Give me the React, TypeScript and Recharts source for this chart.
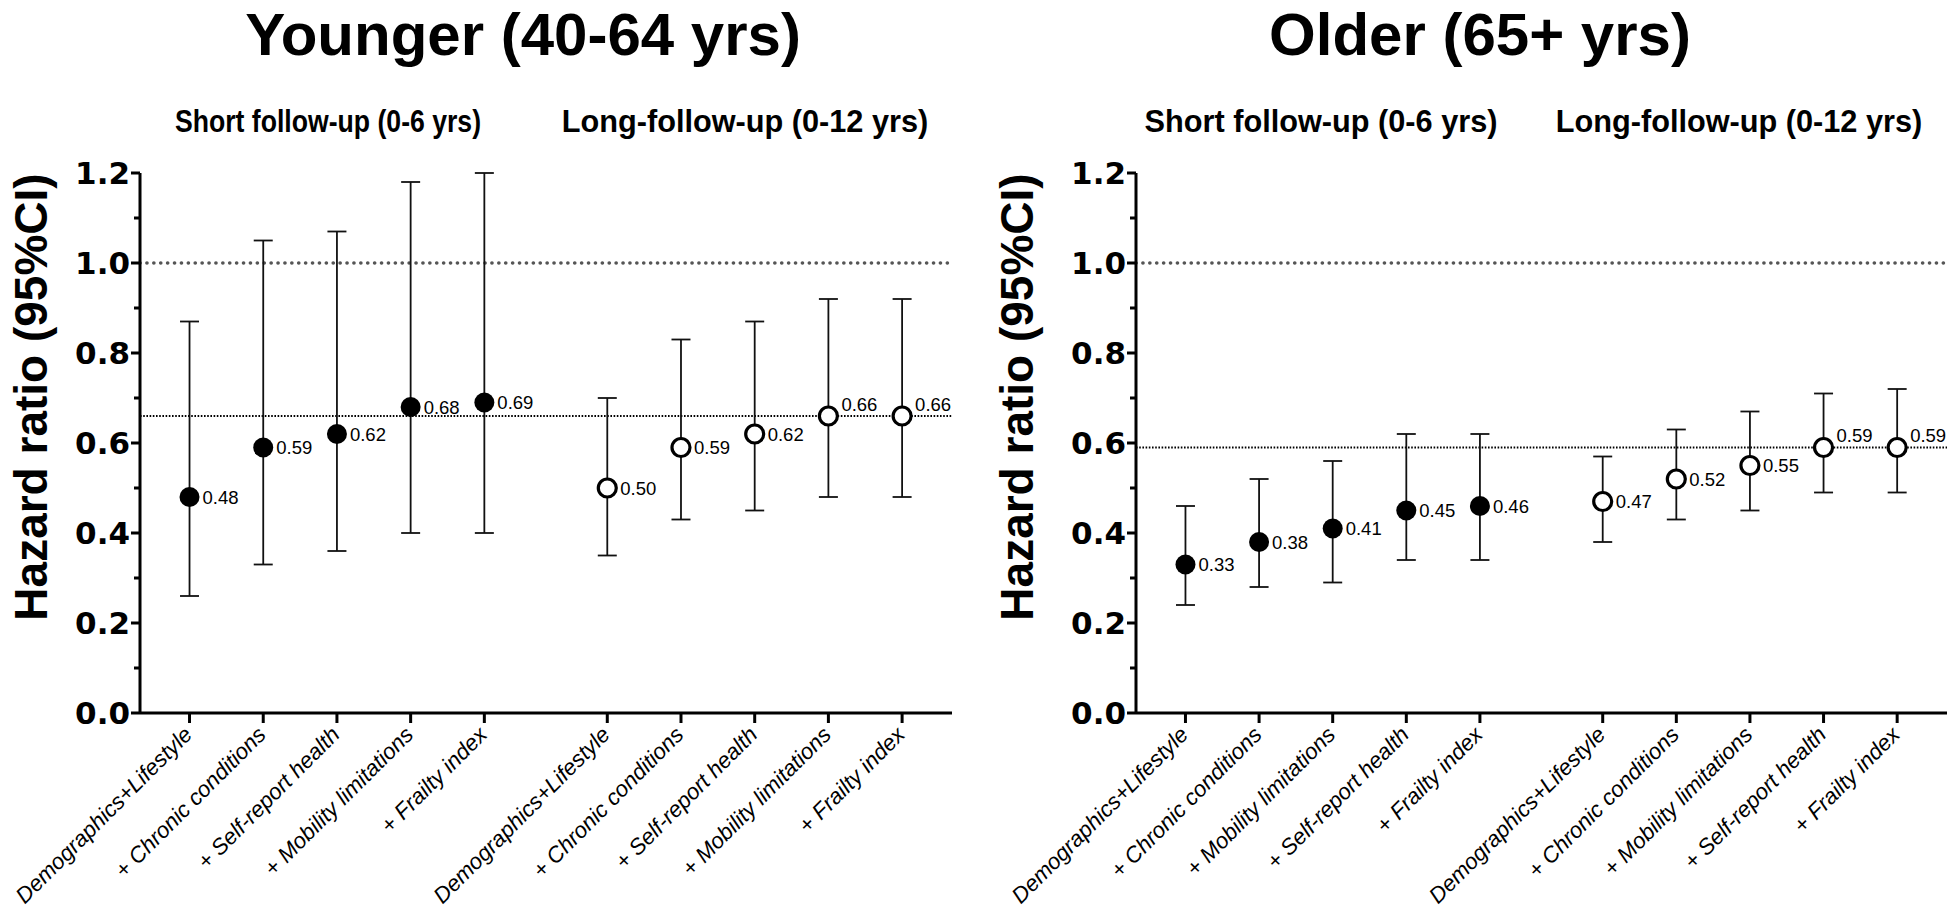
import { ScatterChart, Scatter, XAxis, YAxis, ErrorBar, ReferenceLine } from 'recharts'

// model labels (x categories)
const youngerLabels = ['Demographics+Lifestyle', '+ Chronic conditions', '+ Self-report health', '+ Mobility limitations', '+ Frailty index']
const olderLabels = ['Demographics+Lifestyle', '+ Chronic conditions', '+ Mobility limitations', '+ Self-report health', '+ Frailty index']

// Younger (40-64 yrs)
const youngerShortHR = [0.48, 0.59, 0.62, 0.68, 0.69]
const youngerShortLow = [0.26, 0.33, 0.36, 0.40, 0.40]
const youngerShortHigh = [0.87, 1.05, 1.07, 1.18, 1.20]
const youngerLongHR = [0.50, 0.59, 0.62, 0.66, 0.66]
const youngerLongLow = [0.35, 0.43, 0.45, 0.48, 0.48]
const youngerLongHigh = [0.70, 0.83, 0.87, 0.92, 0.92]
const youngerRef = 0.66

// Older (65+ yrs)
const olderShortHR = [0.33, 0.38, 0.41, 0.45, 0.46]
const olderShortLow = [0.24, 0.28, 0.29, 0.34, 0.34]
const olderShortHigh = [0.46, 0.52, 0.56, 0.62, 0.62]
const olderLongHR = [0.47, 0.52, 0.55, 0.59, 0.59]
const olderLongLow = [0.38, 0.43, 0.45, 0.49, 0.49]
const olderLongHigh = [0.57, 0.63, 0.67, 0.71, 0.72]
const olderRef = 0.59

const yTicks = [0, 0.1, 0.2, 0.3, 0.4, 0.5, 0.6, 0.7, 0.8, 0.9, 1.0, 1.1, 1.2]

const SANS = "'Liberation Sans', Arial, sans-serif"
const HEAVY = "'DejaVu Sans', 'Liberation Sans', sans-serif"

// second group sits a bit further right than the next slot
const GROUP_GAP = 1.668
const slot = (group: number, i: number) => i + group * (4 + GROUP_GAP)
const xTicks = [0, 1, 2, 3, 4].map((i) => slot(0, i)).concat([0, 1, 2, 3, 4].map((i) => slot(1, i)))

function rows(group: number, hr: number[], lo: number[], hi: number[]) {
    return hr.map((v, i) => ({ pos: slot(group, i), hr: v, err: [v - lo[i], hi[i] - v] }))
}

function YTick(props: any) {
    const { x, y, payload } = props
    const v = Math.round(payload.value * 10)
    const major = v % 2 === 0
    return (
        <g>
            <line x1={x - (major ? 9 : 6)} y1={y} x2={x} y2={y} stroke="#000" strokeWidth={3} />
            {major && (
                <text x={x - 10} y={y} dy="0.36em" textAnchor="end" fontFamily={HEAVY} fontWeight="bold" fontSize={31} fill="#000">
                    {(v / 10).toFixed(1)}
                </text>
            )}
        </g>
    )
}

function makeXTick(labels: string[]) {
    return function XTick(props: any) {
        const { x, y, payload } = props
        const idx = xTicks.findIndex((t) => Math.abs(t - payload.value) < 1e-6)
        const text = labels[idx % 5]
        const ax = x + 4
        const ay = y + 23
        return (
            <g>
                <line x1={x} y1={y} x2={x} y2={y + 10} stroke="#000" strokeWidth={3} />
                <text x={ax} y={ay} textAnchor="end" transform={`rotate(-45, ${ax}, ${ay})`} fontFamily={SANS} fontStyle="italic" fontSize={22.3} fill="#000">
                    {text}
                </text>
            </g>
        )
    }
}

function makeDot(open: boolean, ref: number) {
    return function Dot(props: any) {
        const { cx, cy, payload } = props
        const onRef = Math.abs(payload.hr - ref) < 1e-9
        return (
            <g>
                {open ? (
                    <circle cx={cx} cy={cy} r={9} fill="#fff" stroke="#000" strokeWidth={3.2} />
                ) : (
                    <circle cx={cx} cy={cy} r={10} fill="#000" />
                )}
                <text x={cx + 13} y={cy - (onRef ? 12 : 0)} dy="0.36em" fontFamily={SANS} fontSize={18.5} fill="#000">
                    {payload.hr.toFixed(2)}
                </text>
            </g>
        )
    }
}

interface PanelProps {
    width: number
    yAxisWidth: number
    labels: string[]
    shortData: { pos: number; hr: number; err: number[] }[]
    longData: { pos: number; hr: number; err: number[] }[]
    refValue: number
}

function Panel({ width, yAxisWidth, labels, shortData, longData, refValue }: PanelProps) {
    return (
        <ScatterChart width={width} height={914} margin={{ top: 173, right: width === 960 ? 8 : 0, bottom: 0, left: 0 }}>
            <XAxis
                type="number"
                dataKey="pos"
                domain={[-0.672, 10.345]}
                ticks={xTicks}
                interval={0}
                tickSize={0}
                tickMargin={0}
                height={201}
                tick={makeXTick(labels)}
                axisLine={{ stroke: '#000', strokeWidth: 3 }}
                allowDataOverflow
            />
            <YAxis
                type="number"
                dataKey="hr"
                domain={[0, 1.2]}
                ticks={yTicks}
                interval={0}
                tickSize={0}
                tickMargin={0}
                width={yAxisWidth}
                tick={<YTick />}
                axisLine={{ stroke: '#000', strokeWidth: 3 }}
                allowDataOverflow
            />
            <ReferenceLine y={1} stroke="#555" strokeWidth={3.6} strokeDasharray="0.1 6.8" strokeLinecap="round" />
            <ReferenceLine y={refValue} stroke="#000" strokeWidth={2.2} strokeDasharray="1.6 1.6" />
            <Scatter data={shortData} dataKey="hr" shape={makeDot(false, refValue)} isAnimationActive={false}>
                <ErrorBar dataKey="err" direction="y" width={9.5} stroke="#111" strokeWidth={1.8} />
            </Scatter>
            <Scatter data={longData} dataKey="hr" shape={makeDot(true, refValue)} isAnimationActive={false}>
                <ErrorBar dataKey="err" direction="y" width={9.5} stroke="#111" strokeWidth={1.8} />
            </Scatter>
        </ScatterChart>
    )
}

export default function App() {
    return (
        <div style={{ position: 'absolute', left: 0, top: 0, width: 1947, height: 914, background: '#fff', overflow: 'hidden' }}>
            <div style={{ position: 'absolute', left: 0, top: 0 }}>
                <Panel
                    width={960}
                    yAxisWidth={140}
                    labels={youngerLabels}
                    shortData={rows(0, youngerShortHR, youngerShortLow, youngerShortHigh)}
                    longData={rows(1, youngerLongHR, youngerLongLow, youngerLongHigh)}
                    refValue={youngerRef}
                />
            </div>
            <div style={{ position: 'absolute', left: 980, top: 0 }}>
                <Panel
                    width={967}
                    yAxisWidth={156}
                    labels={olderLabels}
                    shortData={rows(0, olderShortHR, olderShortLow, olderShortHigh)}
                    longData={rows(1, olderLongHR, olderLongLow, olderLongHigh)}
                    refValue={olderRef}
                />
            </div>
            <svg width={1947} height={914} style={{ position: 'absolute', left: 0, top: 0, pointerEvents: 'none' }}>
                <g fontFamily={SANS} fontWeight="bold" fill="#000">
                    <text x={523} y={55} textAnchor="middle" fontSize={60}>Younger (40-64 yrs)</text>
                    <text x={1480} y={55} textAnchor="middle" fontSize={60}>Older (65+ yrs)</text>
                    <text x={175} y={132} fontSize={30.7} textLength={306} lengthAdjust="spacingAndGlyphs">Short follow-up (0-6 yrs)</text>
                    <text x={745} y={132} textAnchor="middle" fontSize={30.7}>Long-follow-up (0-12 yrs)</text>
                    <text x={1321} y={132} textAnchor="middle" fontSize={30.7}>Short follow-up (0-6 yrs)</text>
                    <text x={1739} y={132} textAnchor="middle" fontSize={30.7}>Long-follow-up (0-12 yrs)</text>
                    <text x={47} y={397} textAnchor="middle" fontSize={46} transform="rotate(-90, 47, 397)">Hazard ratio (95%CI)</text>
                    <text x={1033} y={397} textAnchor="middle" fontSize={46} transform="rotate(-90, 1033, 397)">Hazard ratio (95%CI)</text>
                </g>
            </svg>
        </div>
    )
}
